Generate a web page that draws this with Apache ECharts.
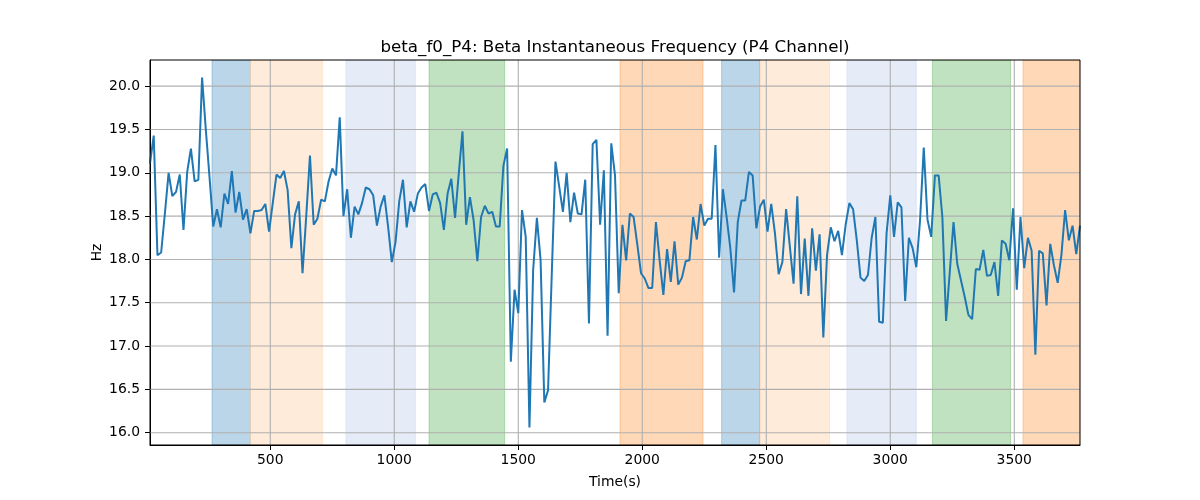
<!DOCTYPE html>
<html>
<head>
<meta charset="utf-8">
<script src="https://cdn.jsdelivr.net/npm/echarts@6/dist/echarts.min.js"></script>
<style>html,body{margin:0;padding:0;background:#fff}#c{width:1200px;height:500px}</style>
</head>
<body>
<div id="c"></div>
<script>
const times = [
15,30,45,60,75,90,105,120,135,150,165,180,195,210,225,240,255,270,285,300,
315,330,345,360,375,390,405,420,435,450,465,480,495,510,525,540,555,570,585,600,
615,630,645,660,675,690,705,720,735,750,765,780,795,810,825,840,855,870,885,900,
915,930,945,960,975,990,1005,1020,1035,1050,1065,1080,1095,1110,1125,1140,1155,1170,1185,1200,
1215,1230,1245,1260,1275,1290,1305,1320,1335,1350,1365,1380,1395,1410,1425,1440,1455,1470,1485,1500,
1515,1530,1545,1560,1575,1590,1605,1620,1635,1650,1665,1680,1695,1710,1725,1740,1755,1770,1785,1800,
1815,1830,1845,1860,1875,1890,1905,1920,1935,1950,1965,1980,1995,2010,2025,2040,2055,2070,2085,2100,
2115,2130,2145,2160,2175,2190,2205,2220,2235,2250,2265,2280,2295,2310,2325,2340,2355,2370,2385,2400,
2415,2430,2445,2460,2475,2490,2505,2520,2535,2550,2565,2580,2595,2610,2625,2640,2655,2670,2685,2700,
2715,2730,2745,2760,2775,2790,2805,2820,2835,2850,2865,2880,2895,2910,2925,2940,2955,2970,2985,3000,
3015,3030,3045,3060,3075,3090,3105,3120,3135,3150,3165,3180,3195,3210,3225,3240,3255,3270,3285,3300,
3315,3330,3345,3360,3375,3390,3405,3420,3435,3450,3465,3480,3495,3510,3525,3540,3555,3570,3585,3600,
3615,3630,3645,3660,3675,3690,3705,3720,3735,3750,3765
];
const freqHz = [
19.11,19.43,18.05,18.08,18.53,19.00,18.73,18.78,18.98,18.34,19.01,19.28,18.90,18.92,20.10,19.50,18.95,18.38,18.58,18.37,
18.76,18.64,19.02,18.54,18.78,18.46,18.58,18.30,18.56,18.56,18.57,18.64,18.32,18.65,18.98,18.94,19.02,18.80,18.13,18.52,18.67,
17.84,18.50,19.20,18.40,18.47,18.69,18.67,18.90,19.05,18.97,19.64,18.50,18.81,18.25,18.61,18.52,18.65,18.83,18.81,18.74,
18.39,18.61,18.74,18.38,17.97,18.20,18.67,18.92,18.37,18.67,18.55,18.76,18.83,18.87,18.56,18.75,18.77,18.65,18.34,18.76,18.93,18.48,
18.99,19.48,18.40,18.72,18.45,17.98,18.49,18.62,18.53,18.55,18.38,18.38,19.08,19.28,16.82,17.65,17.38,18.57,18.26,16.06,
17.88,18.48,17.99,16.35,16.49,17.83,19.13,18.84,18.55,19.00,18.43,18.77,18.53,18.52,18.92,17.26,19.33,19.38,18.40,19.03,17.12,19.34,18.97,
17.61,18.40,17.99,18.53,18.49,18.17,17.84,17.78,17.67,17.67,18.43,17.99,17.59,18.12,17.74,18.21,17.71,17.79,17.98,17.99,
18.49,18.23,18.64,18.39,18.47,18.47,19.32,18.02,18.81,18.49,18.13,17.62,18.43,18.68,18.68,19.01,18.97,18.36,18.61,18.69,18.32,18.64,
18.30,17.83,17.97,18.58,18.15,17.72,18.73,17.60,18.24,17.58,18.36,17.87,18.29,17.10,18.05,18.37,18.21,18.33,18.05,18.40,
18.65,18.58,18.22,17.79,17.75,17.82,18.25,18.49,17.28,17.27,18.30,18.74,18.26,18.66,18.60,17.52,18.25,18.13,17.91,18.45,19.29,18.46,
18.26,18.97,18.97,18.49,17.29,17.86,18.43,17.95,17.76,17.57,17.36,17.31,17.89,17.88,18.11,17.81,17.82,17.97,17.58,18.22,
18.18,17.99,18.59,17.65,18.49,17.90,18.25,18.10,16.90,18.10,18.07,17.47,18.18,17.93,17.73,18.05,18.57,18.22,18.39,18.06,18.39
];
const bandStarts = [265, 420, 805, 1140, 1910, 2320, 2475, 2825, 3170, 3535];
const bandEnds   = [420, 710, 1085, 1445, 2245, 2475, 2755, 3105, 3485, 3765];
const bandKinds  = ['b', 'lo', 'lb', 'g', 'o', 'b', 'lo', 'lb', 'g', 'o'];
const xTicks = [500, 1000, 1500, 2000, 2500, 3000, 3500];
const yTicks = [16.0, 16.5, 17.0, 17.5, 18.0, 18.5, 19.0, 19.5, 20.0];
const xRange = [15, 3765];
const yRange = [15.858, 20.302];

const bandColors = {
  b: 'rgb(188,214,233)',
  lo: 'rgb(255,235,217)',
  lb: 'rgb(229,236,247)',
  g: 'rgb(192,226,192)',
  o: 'rgb(255,216,183)'
};
const bandEdge = {
  b: 'rgba(31,119,180,0.3)',
  lo: 'rgba(255,127,14,0.15)',
  lb: 'rgba(100,149,237,0.15)',
  g: 'rgba(44,160,44,0.3)',
  o: 'rgba(255,127,14,0.3)'
};
const FONT = 'DejaVu Sans';
const gridStyle = { color: '#b0b0b0', width: 1.1 };

const series = [];
series.push({
  type: 'custom', z: 1, silent: true, animation: false,
  data: bandStarts.map((s, i) => [s, bandEnds[i], i]),
  encode: { x: [0, 1] },
  clip: true,
  renderItem: function (params, api) {
    const i = api.value(2);
    const p0 = api.coord([api.value(0), yRange[1]]);
    const p1 = api.coord([api.value(1), yRange[0]]);
    const k = bandKinds[i];
    return {
      type: 'rect',
      shape: { x: p0[0], y: p0[1], width: p1[0] - p0[0], height: p1[1] - p0[1] },
      style: { fill: bandColors[k], stroke: bandEdge[k], lineWidth: 1 }
    };
  }
});
yTicks.forEach(v => series.push({
  type: 'line', z: 2, silent: true, symbol: 'none', animation: false,
  lineStyle: gridStyle, data: [[xRange[0], v], [xRange[1], v]]
}));
xTicks.forEach(v => series.push({
  type: 'line', z: 2, silent: true, symbol: 'none', animation: false,
  lineStyle: gridStyle, data: [[v, yRange[0]], [v, yRange[1]]]
}));
series.push({
  type: 'line', z: 3, symbol: 'none', animation: false,
  lineStyle: { color: '#1f77b4', width: 2 },
  data: times.map((t, i) => [t, freqHz[i]])
});

const chart = echarts.init(document.getElementById('c'), null, { renderer: 'canvas' });
chart.setOption({
  animation: false,
  backgroundColor: '#fff',
  title: {
    text: 'beta_f0_P4: Beta Instantaneous Frequency (P4 Channel)',
    left: 615, top: 39, textAlign: 'center', padding: 0,
    textStyle: { fontFamily: FONT, fontSize: 16.7, fontWeight: 'normal', color: '#000' }
  },
  grid: { left: 150, right: 120, top: 60, bottom: 55, show: true, borderColor: '#000', borderWidth: 1, backgroundColor: 'transparent', z: 4 },
  xAxis: {
    type: 'value', min: xRange[0], max: xRange[1],
    name: 'Time(s)', nameLocation: 'middle', nameGap: 30,
    nameTextStyle: { fontFamily: FONT, fontSize: 13.9, color: '#000' },
    axisLine: { show: true, lineStyle: { color: '#000', width: 1 } },
    axisTick: { show: true, length: 5, customValues: xTicks, lineStyle: { color: '#000' } },
    axisLabel: { customValues: xTicks, margin: 8, fontFamily: FONT, fontSize: 13.9, color: '#000',
      formatter: v => String(v) },
    splitLine: { show: false }
  },
  yAxis: {
    type: 'value', min: yRange[0], max: yRange[1],
    name: 'Hz', nameLocation: 'middle', nameGap: 46, nameRotate: 90, nameMoveOverlap: false,
    nameTextStyle: { fontFamily: FONT, fontSize: 13.9, color: '#000' },
    axisLine: { show: true, lineStyle: { color: '#000', width: 1 } },
    axisTick: { show: true, length: 5, customValues: yTicks, lineStyle: { color: '#000' } },
    axisLabel: { customValues: yTicks, margin: 10, fontFamily: FONT, fontSize: 13.9, color: '#000',
      formatter: v => Number(v).toFixed(1) },
    splitLine: { show: false }
  },
  series: series
});
</script>
</body>
</html>
